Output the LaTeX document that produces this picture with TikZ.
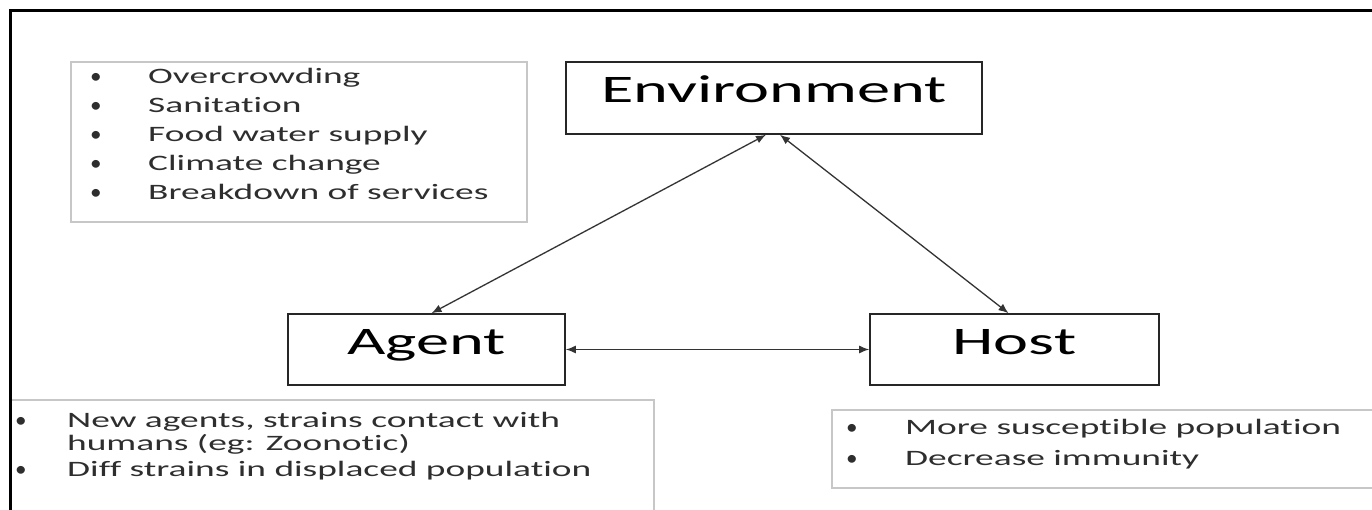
\documentclass[tikz,border=0pt]{standalone}
\usepackage{fontspec}
\setmainfont{Carlito}[FakeStretch=1.7, Ligatures=NoCommon]
\usetikzlibrary{arrows.meta}
\newcommand\mybul{\scalebox{0.62}[1]{•}}
\begin{document}
\begin{tikzpicture}[x=1pt,y=1pt,
  bigbox/.style={draw=black!85, line width=1.6pt, inner sep=0pt,
    text height=25pt, text depth=15pt, font=\fontsize{39}{44}\selectfont},
  listbox/.style={draw=black!22, line width=1.6pt, inner sep=0pt},
  item/.style={anchor=base west, inner sep=0pt, text=black!82,
    font=\fontsize{22}{26}\selectfont},
  conn/.style={draw=black!80, line width=1.3pt,
    {Latex[length=10pt,width=8pt]}-{Latex[length=10pt,width=8pt]}},
  frame/.style={line width=3pt, draw=black}]
\useasboundingbox (0,0) rectangle (1372,510);
\clip (0,0) rectangle (1372,510);

% list boxes
\node[listbox, minimum width=456, minimum height=160] (envlist) at (299,368) {};
\node[listbox, minimum width=643, minimum height=130] (agentlist) at (332.5,45) {};
\node[listbox, minimum width=567, minimum height=78] (hostlist) at (1115.5,61) {};

% main boxes
\node[bigbox, minimum width=416, minimum height=72] (env) at (774,412) {Environment};
\node[bigbox, minimum width=277, minimum height=71] (agent) at (426.5,160.5) {Agent};
\node[bigbox, minimum width=289, minimum height=71] (host) at (1014.5,160.5) {Host};

% connectors
\draw[conn] ([xshift=-8pt]env.south) -- ([xshift=5pt]agent.north);
\draw[conn] ([xshift=6pt]env.south) -- ([xshift=-6pt]host.north);
\draw[conn] (agent.east) -- (host.west);

% environment factors
\node[item] (e1) at (90,426) {\makebox[58pt][l]{\mybul}Overcrowding};
\node[item] (e2) at (90,397) {\makebox[58pt][l]{\mybul}Sanitation};
\node[item] (e3) at (90,368) {\makebox[58pt][l]{\mybul}Food water supply};
\node[item] (e4) at (90,339) {\makebox[58pt][l]{\mybul}Climate change};
\node[item] (e5) at (90,310) {\makebox[58pt][l]{\mybul}Breakdown of services};

% agent factors
\node[item] (a1) at (15,82) {\makebox[52pt][l]{\mybul}New agents, strains contact with};
\node[item] (a2) at (67,59) {humans (eg: Zoonotic)};
\node[item] (a3) at (15,33) {\makebox[52pt][l]{\mybul}Diff strains in displaced population};

% host factors
\node[item] (h1) at (846,75) {\makebox[59pt][l]{\mybul}More susceptible population};
\node[item] (h2) at (846,44) {\makebox[59pt][l]{\mybul}Decrease immunity};

% outer frame
\draw[frame] (1380,499) -- (10,499) -- (10,-5);
\end{tikzpicture}
\end{document}
